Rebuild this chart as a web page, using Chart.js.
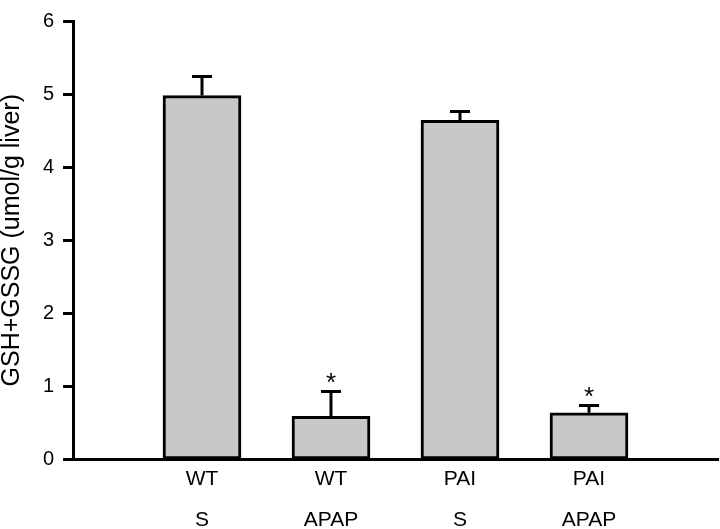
<!DOCTYPE html>
<html>
<head>
<meta charset="utf-8">
<script src="https://cdn.jsdelivr.net/npm/chart.js@4/dist/chart.umd.min.js"></script>
<style>
    body { margin: 0; background: #fff; }
    canvas { display: block; }
</style>
</head>
<body>
<canvas id="gsh-chart" width="720" height="529"></canvas>
<script>
const genotype = ['WT', 'WT', 'PAI', 'PAI'];
const treatment = ['S', 'APAP', 'S', 'APAP'];
const means = [4.98, 0.59, 4.64, 0.64];
const sem = [0.26, 0.34, 0.12, 0.10];
const significant = [false, true, false, true];
const yTicks = [0, 1, 2, 3, 4, 5, 6];

// empty slots at both ends so the bars sit one step in from the axes
const labels = [''].concat(genotype.map((g, i) => [g, treatment[i]]), ['']);
const values = [null].concat(means, [null]);
const errors = [null].concat(sem, [null]);
const stars = [false].concat(significant, [false]);

const fontFamily = '"Liberation Sans", Arial, sans-serif';

const errorBarPlugin = {
    id: 'errorBars',
    afterDatasetsDraw(chart) {
        const ctx = chart.ctx;
        const yScale = chart.scales.y;
        const meta = chart.getDatasetMeta(0);
        ctx.save();
        ctx.strokeStyle = '#000';
        ctx.lineWidth = 3;
        meta.data.forEach((bar, i) => {
            if (values[i] === null) return;
            const top = yScale.getPixelForValue(values[i] + errors[i]);
            ctx.beginPath();
            ctx.moveTo(bar.x, bar.y);
            ctx.lineTo(bar.x, top);
            ctx.moveTo(bar.x - 10, top);
            ctx.lineTo(bar.x + 10, top);
            ctx.stroke();
            if (stars[i]) {
                ctx.fillStyle = '#000';
                ctx.font = '26px ' + fontFamily;
                ctx.textAlign = 'center';
                ctx.textBaseline = 'middle';
                ctx.fillText('*', bar.x, top - 8);
            }
        });
        ctx.restore();
    }
};

const ctx = document.getElementById('gsh-chart').getContext('2d');
new Chart(ctx, {
    type: 'bar',
    data: {
        labels: labels,
        datasets: [{
            data: values,
            backgroundColor: '#c8c8c8',
            borderColor: '#000',
            borderWidth: 3,
            borderSkipped: false,
            barThickness: 78
        }]
    },
    options: {
        responsive: false,
        animation: false,
        layout: { padding: { top: 10, right: 2, left: 0, bottom: 0 } },
        plugins: {
            legend: { display: false },
            tooltip: { enabled: false }
        },
        scales: {
            x: {
                offset: false,
                grid: { display: false, drawTicks: false },
                border: { display: true, color: '#000', width: 3 },
                ticks: {
                    color: '#000',
                    padding: -1,
                    maxRotation: 0,
                    autoSkip: false,
                    font: { family: fontFamily, size: 21, lineHeight: 1.95 }
                },
                afterFit(scale) { scale.height = 69.5; }
            },
            y: {
                min: 0,
                max: 6,
                afterBuildTicks(scale) { scale.ticks = yTicks.map(v => ({ value: v })); },
                grid: {
                    drawOnChartArea: false,
                    drawTicks: true,
                    tickLength: 10,
                    tickColor: '#000',
                    tickWidth: 3
                },
                border: { display: true, color: '#000', width: 3 },
                ticks: {
                    color: '#000',
                    padding: 9,
                    font: { family: fontFamily, size: 20 }
                },
                title: {
                    display: true,
                    text: 'GSH+GSSG (umol/g liver)',
                    color: '#000',
                    padding: { top: 0, bottom: 0 },
                    font: { family: fontFamily, size: 25, lineHeight: 1 }
                },
                afterFit(scale) { scale.width = 73; }
            }
        }
    },
    plugins: [errorBarPlugin]
});
</script>
</body>
</html>
